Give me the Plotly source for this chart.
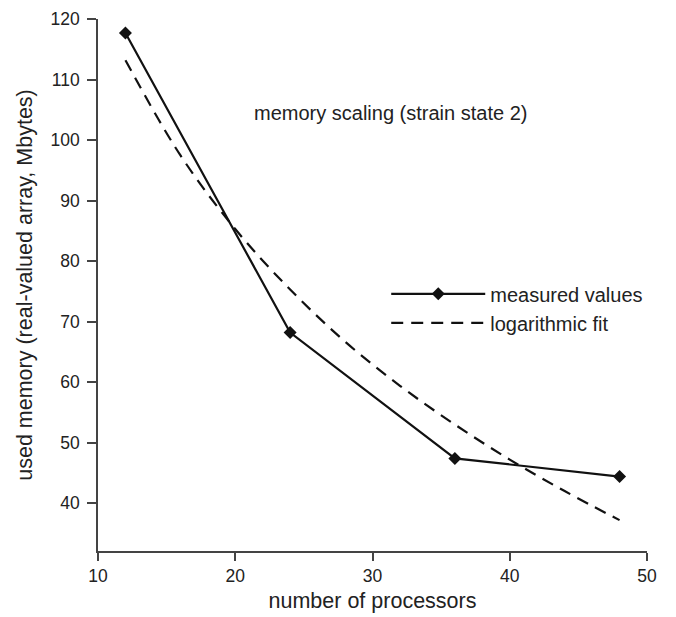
import plotly.graph_objects as go

processors = [12, 24, 36, 48]
measured_mb = [117.7, 68.2, 47.4, 44.4]

fit_x = [12, 16, 20, 24, 28, 32, 36, 40, 44, 48]
fit_mb = [113.2, 97.5, 85.3, 75.3, 66.7, 59.4, 53.0, 47.2, 42.0, 37.2]

y_ticks = [40, 50, 60, 70, 80, 90, 100, 110, 120]
x_ticks = [10, 20, 30, 40, 50]

FONT = "Liberation Sans, Arial, sans-serif"

fig = go.Figure()
fig.add_trace(go.Scatter(
    x=processors, y=measured_mb, mode="lines+markers", name="measured values",
    line=dict(color="#111111", width=2.2),
    marker=dict(symbol="diamond", size=10, color="#111111"),
))
fig.add_trace(go.Scatter(
    x=fit_x, y=fit_mb, mode="lines", name="logarithmic fit",
    line=dict(color="#111111", width=2.2, dash="12px,8px", shape="spline"),
))

fig.update_layout(
    width=676, height=617,
    margin=dict(l=89.5, r=37.3, t=11, b=74.3, autoexpand=False),
    plot_bgcolor="white", paper_bgcolor="white",
    font=dict(family=FONT, size=17.5, color="#222222"),
    showlegend=True,
    legend=dict(x=0.525, y=0.52, xanchor="left", yanchor="top",
                bgcolor="rgba(0,0,0,0)", itemwidth=94,
                font=dict(size=20), tracegroupgap=0),
    annotations=[dict(x=31.3, y=104.4, xref="x", yref="y",
                      text="memory scaling (strain state 2)", showarrow=False,
                      font=dict(size=20, family=FONT, color="#222222"))],
)
fig.update_xaxes(
    range=[10, 50], tickvals=x_ticks, showgrid=False, zeroline=False,
    showline=True, linecolor="#444444", linewidth=1.5,
    ticks="outside", ticklen=8, tickwidth=1.5, tickcolor="#444444",
    ticklabelstandoff=0, automargin=False,
    title=dict(text="number of processors", font=dict(size=21.5), standoff=8),
)
fig.update_yaxes(
    range=[32.1, 120], tickvals=y_ticks, showgrid=False, zeroline=False,
    showline=True, linecolor="#444444", linewidth=1.5,
    ticks="outside", ticklen=9, tickwidth=1.5, tickcolor="#444444",
    ticklabelstandoff=4, automargin=False,
    title=dict(text="used memory (real-valued array, Mbytes)", font=dict(size=21.5), standoff=12),
)

fig.write_html("out.html")
